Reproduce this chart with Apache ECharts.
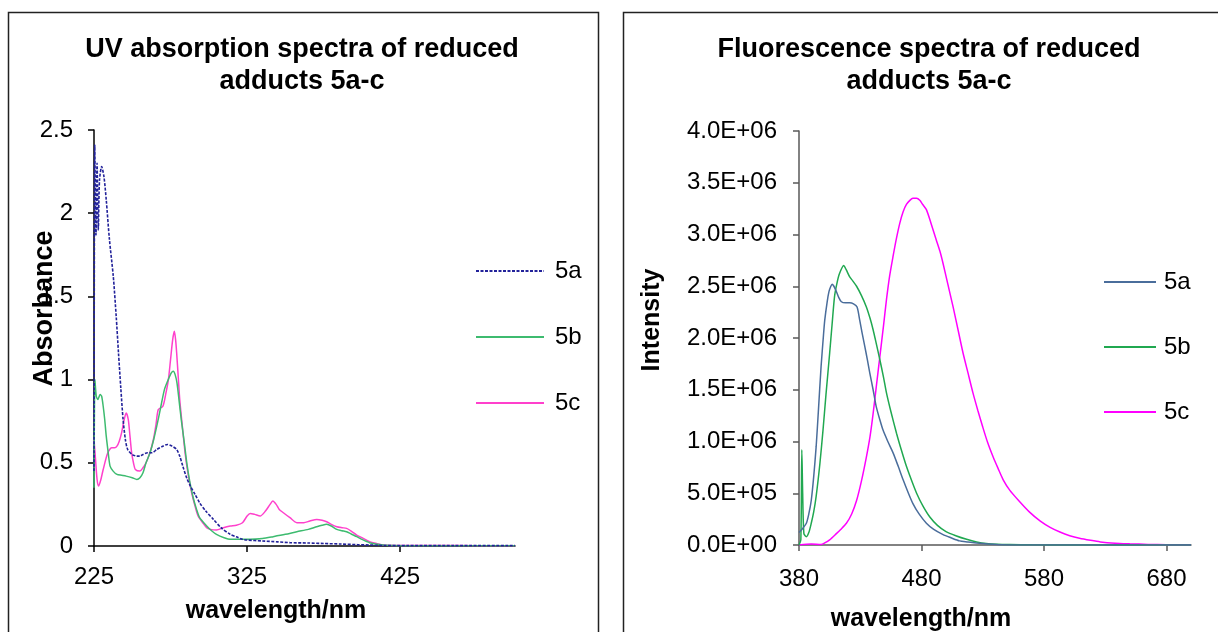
<!DOCTYPE html>
<html>
<head>
<meta charset="utf-8">
<script src="https://cdn.jsdelivr.net/npm/echarts@6/dist/echarts.min.js"></script>
<style>
html,body{margin:0;padding:0;background:#fff;}
#c{width:1218px;height:632px;}
</style>
</head>
<body>
<div id="c"></div>
<script>
// ---------- DATA ----------
var seriesNames = ['5a', '5b', '5c'];
var uvTicks = [225, 325, 425];
var flTicks = [380, 480, 580, 680];

// UV absorption (wavelength nm, absorbance)
var uv5a = [[225,0.45],[225.5,2.41],[226.3,1.87],[227,2.3],[227.8,1.9],[228.6,2.2],[230,2.28],[231.5,2.22],[233,2.08],[235,1.85],[237.6,1.62],[239.5,1.38],[241,1.16],[242.5,0.95],[244,0.76],[245.5,0.64],[247,0.58],[250,0.55],[253,0.54],[255,0.54],[257,0.55],[260,0.56],[263,0.56],[266,0.58],[270,0.6],[273,0.61],[276,0.6],[279,0.58],[281,0.54],[283,0.48],[285.5,0.41],[288,0.36],[291,0.31],[294,0.26],[298,0.21],[303,0.16],[308,0.11],[314,0.07],[318,0.055],[322,0.04],[325,0.036],[335,0.03],[345,0.025],[353,0.02],[365,0.018],[375,0.015],[386,0.012],[397,0.008],[405,0.006],[414,0.003],[430,0.002],[460,0.002],[500,0.002]];
var uv5b = [[225,0.35],[225.6,1.0],[226.5,0.9],[227.5,0.88],[229,0.91],[230,0.9],[231,0.84],[232,0.76],[233,0.66],[234.3,0.56],[235.5,0.48],[237.5,0.45],[240,0.43],[243,0.425],[246,0.42],[250,0.41],[253,0.40],[255,0.41],[257,0.44],[259,0.5],[261.6,0.56],[264,0.64],[266,0.72],[268.5,0.83],[271,0.94],[273.5,1.0],[275.5,1.04],[276.8,1.05],[278,1.03],[279.2,0.98],[280.5,0.88],[282,0.76],[284,0.62],[285.6,0.50],[287.5,0.39],[289.8,0.29],[292,0.22],[294,0.17],[298.6,0.12],[302,0.09],[305,0.07],[310,0.05],[314,0.04],[327,0.04],[335,0.045],[342,0.056],[350,0.07],[357.5,0.086],[365,0.1],[370.5,0.116],[374,0.125],[377,0.13],[380,0.12],[383.6,0.10],[387,0.092],[390,0.086],[393,0.072],[396.7,0.056],[400,0.04],[405,0.02],[410,0.01],[415,0.005],[425,0.002],[450,0.001],[500,0.001]];
var uv5c = [[225,0.64],[226,0.52],[227,0.40],[228,0.36],[229.5,0.4],[231,0.46],[234,0.56],[236.5,0.59],[238.5,0.59],[240,0.6],[241.5,0.63],[243,0.68],[244.5,0.75],[246,0.8],[247.4,0.76],[248.5,0.66],[249.6,0.56],[251,0.49],[252,0.46],[255,0.45],[257,0.47],[259,0.5],[261.5,0.56],[263.8,0.64],[265.5,0.73],[267,0.82],[270,0.84],[272,0.92],[273.6,1.0],[275,1.12],[276.4,1.24],[277.5,1.29],[278.3,1.24],[279,1.16],[280,1.02],[281,0.88],[282.7,0.72],[284.5,0.56],[286.5,0.43],[288.8,0.32],[291,0.24],[293,0.18],[296,0.14],[298.6,0.11],[301,0.1],[305,0.096],[309.5,0.11],[314,0.12],[318,0.125],[322,0.14],[325,0.18],[327,0.196],[330,0.19],[333.5,0.18],[337,0.21],[340,0.25],[341.8,0.27],[344,0.25],[346,0.22],[348.7,0.20],[353,0.17],[357.5,0.14],[362,0.14],[366,0.15],[370.5,0.16],[374,0.155],[377,0.146],[380,0.13],[383.6,0.116],[387,0.11],[390,0.106],[393,0.09],[396.6,0.066],[400,0.05],[405,0.026],[410,0.014],[414,0.006],[425,0.003],[450,0.003],[475,0.002],[500,0.002]];

// Fluorescence (wavelength nm, intensity)
var fl5a = [[380,0.12e6],[383,0.16e6],[386,0.21e6],[388,0.3e6],[390,0.43e6],[392,0.66e6],[394,0.95e6],[396,1.33e6],[398,1.72e6],[400,2.03e6],[401,2.17e6],[403,2.35e6],[404.5,2.45e6],[406,2.50e6],[407,2.52e6],[408.5,2.50e6],[410.5,2.45e6],[412.5,2.39e6],[414.6,2.35e6],[418,2.34e6],[421.4,2.34e6],[424.5,2.33e6],[427.4,2.30e6],[429.6,2.17e6],[431.5,2.05e6],[433.7,1.92e6],[435.8,1.79e6],[437.8,1.66e6],[440.5,1.50e6],[443,1.34e6],[446,1.21e6],[448.6,1.11e6],[452.5,1.0e6],[456.8,0.89e6],[461,0.76e6],[465,0.63e6],[469,0.51e6],[473,0.40e6],[478,0.30e6],[484,0.21e6],[490,0.15e6],[497.6,0.10e6],[504,0.07e6],[511,0.04e6],[518,0.03e6],[525,0.02e6],[535,0.01e6],[545,0.003e6],[560,0],[600,0],[650,0],[700,0]];
var fl5b = [[380,0],[381.5,0.05e6],[382.3,0.92e6],[383,0.5e6],[384,0.11e6],[386,0.08e6],[388,0.12e6],[390,0.21e6],[392,0.32e6],[394,0.47e6],[397,0.78e6],[399.6,1.11e6],[402,1.45e6],[405,1.85e6],[407,2.13e6],[409,2.40e6],[411,2.53e6],[413,2.62e6],[416.5,2.70e6],[418.5,2.66e6],[421.4,2.59e6],[424,2.55e6],[427,2.50e6],[431,2.41e6],[435,2.30e6],[438,2.19e6],[440.5,2.08e6],[443,1.95e6],[446,1.79e6],[449,1.62e6],[451.4,1.47e6],[455,1.29e6],[459.6,1.08e6],[463.5,0.92e6],[467.7,0.76e6],[472,0.62e6],[476,0.50e6],[481,0.38e6],[486.8,0.27e6],[493,0.19e6],[500,0.13e6],[508,0.09e6],[516.8,0.055e6],[525,0.03e6],[533,0.015e6],[542,0.008e6],[552,0.005e6],[570,0.002e6],[600,0],[650,0],[700,0]];
var fl5c = [[380,0],[390,0.01e6],[398,0.005e6],[401,0.02e6],[405,0.05e6],[410.5,0.11e6],[414,0.15e6],[418.7,0.21e6],[423,0.3e6],[427,0.43e6],[431,0.62e6],[435,0.85e6],[438,1.05e6],[440.5,1.27e6],[443,1.52e6],[446,1.82e6],[449,2.12e6],[451.4,2.37e6],[454,2.6e6],[456.8,2.79e6],[459.5,2.96e6],[462.3,3.11e6],[465,3.22e6],[467.7,3.29e6],[470.5,3.33e6],[473,3.35e6],[476,3.35e6],[478.6,3.33e6],[481,3.29e6],[484,3.24e6],[488,3.10e6],[492,2.95e6],[495,2.84e6],[497.6,2.72e6],[501.5,2.52e6],[505.8,2.30e6],[510,2.07e6],[514,1.85e6],[518,1.66e6],[522,1.47e6],[526,1.30e6],[530,1.14e6],[534,0.99e6],[538.5,0.85e6],[542.5,0.74e6],[546.7,0.63e6],[552,0.53e6],[560,0.42e6],[568,0.32e6],[577,0.23e6],[585,0.17e6],[593,0.125e6],[601,0.09e6],[609,0.065e6],[618,0.045e6],[626,0.03e6],[638,0.018e6],[650,0.012e6],[665,0.006e6],[680,0.003e6],[700,0.002e6]];

// ---------- CHART ----------
var FONT = '"Liberation Sans", Arial, sans-serif';
var chart = echarts.init(document.getElementById('c'), null, {renderer: 'canvas'});

function sciFmt(v) {
  if (v === 0) return '0.0E+00';
  var e = Math.floor(Math.log10(v) + 1e-9);
  var m = v / Math.pow(10, e);
  return m.toFixed(1) + 'E+' + (e < 10 ? '0' + e : e);
}

var uvColors = ['#22229a', '#3dbb6f', '#ff40cc'];
var flColors = ['#4a6d9b', '#20a850', '#ff00ff'];
var uvData = [uv5a, uv5b, uv5c];
var flData = [fl5a, fl5b, fl5c];

var series = [];
seriesNames.forEach(function (n, i) {
  series.push({
    name: 'L' + n, type: 'line', xAxisIndex: 0, yAxisIndex: 0,
    data: uvData[i], showSymbol: false, symbol: 'none', smooth: 0.25,
    color: uvColors[i],
    lineStyle: {color: uvColors[i], width: i === 0 ? 1.6 : 1.5, type: i === 0 ? [3, 1.5] : 'solid'},
    z: 3 - i
  });
});
seriesNames.forEach(function (n, i) {
  series.push({
    name: 'R' + n, type: 'line', xAxisIndex: 1, yAxisIndex: 1,
    data: flData[i], showSymbol: false, symbol: 'none', smooth: 0.25,
    color: flColors[i],
    lineStyle: {color: flColors[i], width: 1.5},
    z: 3 - i
  });
});

var axisLabelStyle = {color: '#000', fontFamily: FONT, fontSize: 24};
var nameStyle = {color: '#000', fontFamily: FONT, fontSize: 25, fontWeight: 'bold'};
var hiddenSymbol = {color: 'rgba(0,0,0,0)', borderWidth: 0, opacity: 0};

var option = {
  backgroundColor: '#fff',
  animation: false,
  title: [
    {text: 'UV absorption spectra of reduced\nadducts 5a-c', left: 297, top: 29, textAlign: 'center',
     textStyle: {fontFamily: FONT, fontSize: 27, fontWeight: 'bold', color: '#000', lineHeight: 32}},
    {text: 'Fluorescence spectra of reduced\nadducts 5a-c', left: 924, top: 29, textAlign: 'center',
     textStyle: {fontFamily: FONT, fontSize: 27, fontWeight: 'bold', color: '#000', lineHeight: 32}}
  ],
  legend: [
    {data: ['L5a', 'L5b', 'L5c'], orient: 'vertical', left: 470, top: 254, itemWidth: 68, itemHeight: 24,
     itemGap: 42, formatter: function (n) { return n.slice(1); }, selectedMode: false,
     itemStyle: hiddenSymbol,
     textStyle: {fontFamily: FONT, fontSize: 24, color: '#000', padding: [0, 0, 0, 6]}},
    {data: ['R5a', 'R5b', 'R5c'], orient: 'vertical', left: 1098, top: 265, itemWidth: 52, itemHeight: 24,
     itemGap: 41, formatter: function (n) { return n.slice(1); }, selectedMode: false,
     itemStyle: hiddenSymbol,
     textStyle: {fontFamily: FONT, fontSize: 24, color: '#000', padding: [0, 0, 0, 3]}}
  ],
  grid: [
    {left: 94, top: 130, width: 421, height: 416, outerBoundsMode: 'none', containLabel: false},
    {left: 799, top: 131, width: 392, height: 414, outerBoundsMode: 'none', containLabel: false}
  ],
  xAxis: [
    {type: 'value', gridIndex: 0, min: 225, max: 500,
     name: 'wavelength/nm', nameLocation: 'middle', nameGap: 53, nameMoveOverlap: false,
     nameTextStyle: Object.assign({}, nameStyle, {padding: [0, 57, 0, 0]}),
     axisLine: {show: true, onZero: false, lineStyle: {color: '#000', width: 1.5}},
     axisTick: {show: true, length: 6, customValues: uvTicks, lineStyle: {color: '#000', width: 1.5}},
     axisLabel: Object.assign({}, axisLabelStyle, {customValues: uvTicks, margin: 19}),
     splitLine: {show: false}},
    {type: 'value', gridIndex: 1, min: 380, max: 700,
     name: 'wavelength/nm', nameLocation: 'middle', nameGap: 62, nameMoveOverlap: false,
     nameTextStyle: Object.assign({}, nameStyle, {padding: [0, 148, 0, 0]}),
     axisLine: {show: true, onZero: false, lineStyle: {color: '#595959', width: 1.5}},
     axisTick: {show: true, length: 6, customValues: flTicks, lineStyle: {color: '#595959', width: 1.5}},
     axisLabel: Object.assign({}, axisLabelStyle, {customValues: flTicks, margin: 22}),
     splitLine: {show: false}}
  ],
  yAxis: [
    {type: 'value', gridIndex: 0, min: 0, max: 2.5, interval: 0.5,
     name: 'Absorbance', nameLocation: 'middle', nameGap: 36, nameMoveOverlap: false,
     nameTextStyle: Object.assign({}, nameStyle, {fontSize: 27, padding: [0, 0, 0, 59]}),
     axisLine: {show: true, lineStyle: {color: '#000', width: 1.5}},
     axisTick: {show: true, length: 6, lineStyle: {color: '#000', width: 1.5}},
     axisLabel: Object.assign({}, axisLabelStyle, {margin: 21}),
     splitLine: {show: false}},
    {type: 'value', gridIndex: 1, min: 0, max: 4e6, interval: 5e5,
     name: 'Intensity', nameLocation: 'middle', nameGap: 134, nameMoveOverlap: false,
     nameTextStyle: Object.assign({}, nameStyle, {padding: [0, 0, 0, 36]}),
     axisLine: {show: true, lineStyle: {color: '#595959', width: 1.5}},
     axisTick: {show: true, length: 6, lineStyle: {color: '#595959', width: 1.5}},
     axisLabel: Object.assign({}, axisLabelStyle, {margin: 22, formatter: sciFmt}),
     splitLine: {show: false}}
  ],
  graphic: [
    {type: 'rect', shape: {x: 8.5, y: 12.5, width: 590, height: 640}, style: {fill: 'none', stroke: '#222', lineWidth: 1.5}, z: -1, silent: true},
    {type: 'rect', shape: {x: 623.5, y: 12.5, width: 620, height: 640}, style: {fill: 'none', stroke: '#222', lineWidth: 1.5}, z: -1, silent: true}
  ],
  series: series
};
chart.setOption(option);
</script>
</body>
</html>
